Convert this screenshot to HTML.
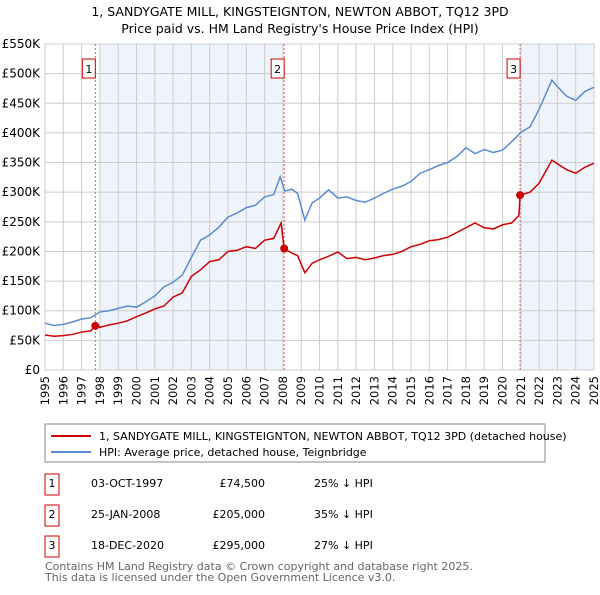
<!DOCTYPE html>
<html><head><meta charset="utf-8"><style>
body{margin:0;background:#fff;font-family:"Liberation Sans","DejaVu Sans",sans-serif;}
svg text{font-family:"DejaVu Sans","Liberation Sans",sans-serif;}
</style></head><body>
<svg id="c" width="600" height="590" xmlns="http://www.w3.org/2000/svg">
<text x="300" y="16" text-anchor="middle" font-size="12.5" fill="#000">1, SANDYGATE MILL, KINGSTEIGNTON, NEWTON ABBOT, TQ12 3PD</text>
<text x="300" y="33" text-anchor="middle" font-size="12.5" fill="#000">Price paid vs. HM Land Registry's House Price Index (HPI)</text>
<g id="plot"></g>
<g>
<rect x="45" y="424" width="500" height="38" fill="#fff" stroke="#888"/>
<line x1="51" y1="436" x2="91" y2="436" stroke="#cc0000" stroke-width="2"/>
<text x="99" y="440" font-size="11">1, SANDYGATE MILL, KINGSTEIGNTON, NEWTON ABBOT, TQ12 3PD (detached house)</text>
<line x1="51" y1="452" x2="91" y2="452" stroke="#5b8bd0" stroke-width="2"/>
<text x="99" y="456" font-size="11">HPI: Average price, detached house, Teignbridge</text>
</g>
<g id="tbl" font-size="11"></g>
<text x="45" y="570" font-size="11" fill="#666">Contains HM Land Registry data © Crown copyright and database right 2025.</text>
<text x="45" y="581" font-size="11" fill="#666">This data is licensed under the Open Government Licence v3.0.</text>
</svg>
<script>
const hpiYears=[1995,1995.5,1996,1996.5,1997,1997.5,1998,1998.5,1999,1999.5,2000,2000.5,2001,2001.5,2002,2002.5,2003,2003.5,2004,2004.5,2005,2005.5,2006,2006.5,2007,2007.5,2007.85,2008.1,2008.5,2008.8,2009.2,2009.6,2010,2010.5,2011,2011.5,2012,2012.5,2013,2013.5,2014,2014.5,2015,2015.5,2016,2016.5,2017,2017.5,2018,2018.5,2019,2019.5,2020,2020.5,2021,2021.5,2022,2022.7,2023,2023.5,2024,2024.5,2025];
const hpiValues=[79,75,77,81,86,88,98,100,104,108,106,115,125,140,148,160,190,219,228,241,258,265,274,278,292,296,326,302,305,298,253,282,290,304,290,292,286,283,290,298,305,310,318,332,338,345,350,360,375,365,372,367,371,385,401,410,440,489,478,462,455,470,477];
const priceYears=[1995,1995.5,1996,1996.5,1997,1997.5,1997.75,1998,1998.5,1999,1999.5,2000,2000.5,2001,2001.5,2002,2002.5,2003,2003.5,2004,2004.5,2005,2005.5,2006,2006.5,2007,2007.5,2007.9,2008.07,2008.5,2008.8,2009.2,2009.6,2010,2010.5,2011,2011.5,2012,2012.5,2013,2013.5,2014,2014.5,2015,2015.5,2016,2016.5,2017,2017.5,2018,2018.5,2019,2019.5,2020,2020.5,2020.9,2020.96,2021.5,2022,2022.7,2023,2023.5,2024,2024.5,2025];
const priceValues=[59,57,58,60,64,66,74.5,72,76,79,83,90,96,103,108,123,130,158,169,183,186,200,202,208,205,219,222,248,205,197,193,164,180,186,192,199,188,190,186,189,193,195,200,208,212,218,220,224,232,240,248,240,238,245,248,261,295,300,315,354,348,338,332,342,349];
const saleYears=[1997.75,2008.07,2020.96];
const saleValues=[74.5,205,295];
const saleLabels=["1","2","3"];
const saleDates=["03-OCT-1997","25-JAN-2008","18-DEC-2020"];
const salePrices=["£74,500","£205,000","£295,000"];
const saleDiffs=["25% ↓ HPI","35% ↓ HPI","27% ↓ HPI"];
const yTicks=[0,50,100,150,200,250,300,350,400,450,500,550];
const yTickLabels=["£0","£50K","£100K","£150K","£200K","£250K","£300K","£350K","£400K","£450K","£500K","£550K"];
const xTicks=[1995,1996,1997,1998,1999,2000,2001,2002,2003,2004,2005,2006,2007,2008,2009,2010,2011,2012,2013,2014,2015,2016,2017,2018,2019,2020,2021,2022,2023,2024,2025];
const shadeRanges=[[1998,2008],[2021,2025]];

const NS="http://www.w3.org/2000/svg";
const L=45,R=594,T=44,B=370;
const X=y=>L+(y-1995)/30*(R-L);
const Y=v=>B-v/550*(B-T);
const plot=document.getElementById('plot');
function mk(tag,attrs,parent){const e=document.createElementNS(NS,tag);for(const k in attrs)e.setAttribute(k,attrs[k]);(parent||plot).appendChild(e);return e;}
shadeRanges.forEach(r=>{
  const e=mk('rect',{x:X(r[0]),y:T,width:X(r[1])-X(r[0]),height:B-T,fill:'#eef3fc'});
  
  
});
xTicks.forEach(t=>{
  const g=mk('line',{x1:X(t),x2:X(t),y1:T,y2:B,stroke:'#ccc','stroke-width':1});
  
  
  const tx=mk('text',{x:0,y:0,'font-size':11.5,'text-anchor':'end',transform:`translate(${X(t)+4},${B+6}) rotate(-90)`});
  tx.textContent=t;
  
  
});
yTicks.forEach((t,i)=>{
  const g=mk('line',{x1:L,x2:R,y1:Y(t),y2:Y(t),stroke:'#ccc','stroke-width':1});
  
  
  const tx=mk('text',{x:40,y:Y(t)+4,'font-size':12,'text-anchor':'end'});
  tx.textContent=yTickLabels[i];
  
  
});
const frame=mk('rect',{x:L,y:T,width:R-L,height:B-T,fill:'none',stroke:'#ccc'});


saleYears.forEach((s,i)=>{
  const l=mk('line',{x1:X(s),x2:X(s),y1:T,y2:B,stroke:'#e06060','stroke-dasharray':'2,2','stroke-width':1});
  
  
  const b=mk('rect',{x:X(s)-13,y:59,width:13,height:19,fill:'#fff',stroke:'#cc0000'});
  
  
  const t=mk('text',{x:X(s)-6.5,y:73,'font-size':11,'text-anchor':'middle'});
  t.textContent=saleLabels[i];
  
  
});
const hp=mk('polyline',{points:hpiYears.map((y,i)=>X(y)+','+Y(hpiValues[i])).join(' '),fill:'none',stroke:'#5b8bd0','stroke-width':1.5});


const pp=mk('polyline',{points:priceYears.map((y,i)=>X(y)+','+Y(priceValues[i])).join(' '),fill:'none',stroke:'#cc0000','stroke-width':1.5});


saleYears.forEach((s,i)=>{
  const c=mk('circle',{cx:X(s),cy:Y(saleValues[i]),r:4,fill:'#cc0000'});
  
  
});
const tbl=document.getElementById('tbl');
saleYears.forEach((s,i)=>{
  const y=487+i*31;
  const b=mk('rect',{x:45,y:y-13,width:14,height:21,fill:'#fff',stroke:'#cc0000'},tbl);
  
  
  const cells=[[52,saleLabels[i],'middle'],[91,saleDates[i],'start'],[265,salePrices[i],'end'],[314,saleDiffs[i],'start']];
  cells.forEach(c=>{
    const t=mk('text',{x:c[0],y:y,'text-anchor':c[2]},tbl);
    t.textContent=c[1];
    
    
  });
});
</script>
</body></html>
